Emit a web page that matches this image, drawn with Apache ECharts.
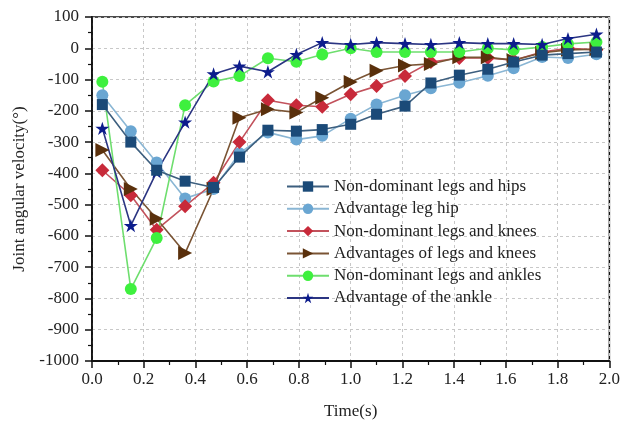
<!DOCTYPE html>
<html>
<head>
<meta charset="utf-8">
<script src="https://cdn.jsdelivr.net/npm/echarts@6/dist/echarts.min.js"></script>
<style>
html,body{margin:0;padding:0;background:#fff;}
#c{width:623px;height:426px;}
</style>
</head>
<body>
<div id="c"></div>
<script>
var timeX = [0.04,0.15,0.25,0.36,0.47,0.57,0.68,0.79,0.89,1.0,1.1,1.21,1.31,1.42,1.53,1.63,1.74,1.84,1.95];
var nonDomHips = [-180,-300,-390,-425,-445,-348,-262,-265,-260,-243,-211,-185,-111,-86,-67,-44,-22,-17,-12];
var advLegHip = [-150,-265,-365,-480,-450,-336,-269,-292,-280,-225,-180,-150,-128,-110,-88,-64,-28,-31,-19];
var nonDomKnees = [-390,-470,-580,-505,-430,-300,-166,-182,-187,-147,-121,-89,-44,-31,-31,-38,-12,0,-5];
var advKnees = [-325,-450,-545,-655,-450,-222,-195,-205,-158,-108,-72,-55,-50,-29,-29,-38,-14,-5,-3];
var nonDomAnkles = [-107,-770,-607,-182,-106,-89,-32,-43,-20,0,-12,-12,-12,-12,0,-5,4,14,20];
var advAnkle = [-256,-567,-395,-236,-82,-57,-75,-20,18,12,18,15,12,18,15,15,12,31,45];
var seriesNames = ['Non-dominant legs and hips','Advantage leg hip','Non-dominant legs and knees','Advantages of legs and knees','Non-dominant legs and ankles','Advantage of the ankle'];

var STAR = 'path://M50,0 L61.2,34.5 L97.6,34.5 L68.2,55.9 L79.4,90.5 L50,69.1 L20.6,90.5 L31.8,55.9 L2.4,34.5 L38.8,34.5 Z';
var FONT = "'Liberation Serif','Times New Roman',serif";

function pairs(vals){ return timeX.map(function(x,i){ return [x, vals[i]]; }); }
function mk(name, vals, lineColor, markColor, symbol, size, rot, z){
  return {
    name: name, type: 'line', data: pairs(vals), z: z || 2,
    symbol: symbol, symbolSize: size, symbolRotate: rot || 0, symbolKeepAspect: true,
    showAllSymbol: true,
    lineStyle: {color: lineColor, width: 1.6},
    itemStyle: {color: markColor, borderColor: markColor, borderWidth: 0},
    emphasis: {disabled: true},
    animation: false
  };
}

var chart = echarts.init(document.getElementById('c'), null, {renderer: 'canvas'});
chart.setOption({
  animation: false,
  backgroundColor: '#fff',
  grid: {left: 92, right: 9, top: 17, bottom: 65, show: true, borderColor: '#111', borderWidth: 1.5, backgroundColor: 'transparent'},
  legend: {
    orient: 'vertical', left: 281, top: 173,
    itemWidth: 42, itemHeight: 13, itemGap: 5.3,
    textStyle: {fontFamily: FONT, fontSize: 17, color: '#222'},
    data: seriesNames
  },
  xAxis: {
    type: 'value', min: 0, max: 2, interval: 0.2,
    name: 'Time(s)', nameLocation: 'middle', nameGap: 42,
    nameTextStyle: {fontFamily: FONT, fontSize: 17, color: '#222'},
    axisLine: {show: true, onZero: false, lineStyle: {color: '#111', width: 1.8}},
    axisTick: {show: true, inside: false, length: 7, lineStyle: {color: '#111', width: 1.5}},
    minorTick: {show: true, splitNumber: 2, length: 4, lineStyle: {color: '#111', width: 1.2}},
    axisLabel: {fontFamily: FONT, fontSize: 17, color: '#222', margin: 10, formatter: function(v){ return v.toFixed(1); }},
    splitLine: {show: true, lineStyle: {color: '#c8c8c8', type: [3,3], width: 1}}
  },
  yAxis: {
    type: 'value', min: -1000, max: 100, interval: 100,
    name: 'Joint angular velocity(°)', nameLocation: 'middle', nameGap: 64, nameRotate: 90,
    nameTextStyle: {fontFamily: FONT, fontSize: 17, color: '#222'},
    axisLine: {show: true, onZero: false, lineStyle: {color: '#111', width: 1.8}},
    axisTick: {show: true, inside: false, length: 7, lineStyle: {color: '#111', width: 1.5}},
    minorTick: {show: true, splitNumber: 2, length: 4, lineStyle: {color: '#111', width: 1.2}},
    axisLabel: {fontFamily: FONT, fontSize: 17, color: '#222', margin: 13, formatter: function(v){ return String(v); }},
    splitLine: {show: true, lineStyle: {color: '#c8c8c8', type: [3,3], width: 1}}
  },
  series: [
    mk(seriesNames[0], nonDomHips, '#3d5f7f', '#1b4a78', 'rect', 11, 0, 3),
    mk(seriesNames[1], advLegHip, '#8ab6d4', '#6aa6d2', 'circle', 12),
    mk(seriesNames[2], nonDomKnees, '#c2525c', '#c82a3a', 'diamond', 14),
    mk(seriesNames[3], advKnees, '#7a5434', '#5a300c', 'triangle', 14, -90),
    mk(seriesNames[4], nonDomAnkles, '#6ede6e', '#3ef03e', 'circle', 12),
    mk(seriesNames[5], advAnkle, '#2b3582', '#0c1c8c', STAR, 14)
  ]
});
</script>
</body>
</html>
